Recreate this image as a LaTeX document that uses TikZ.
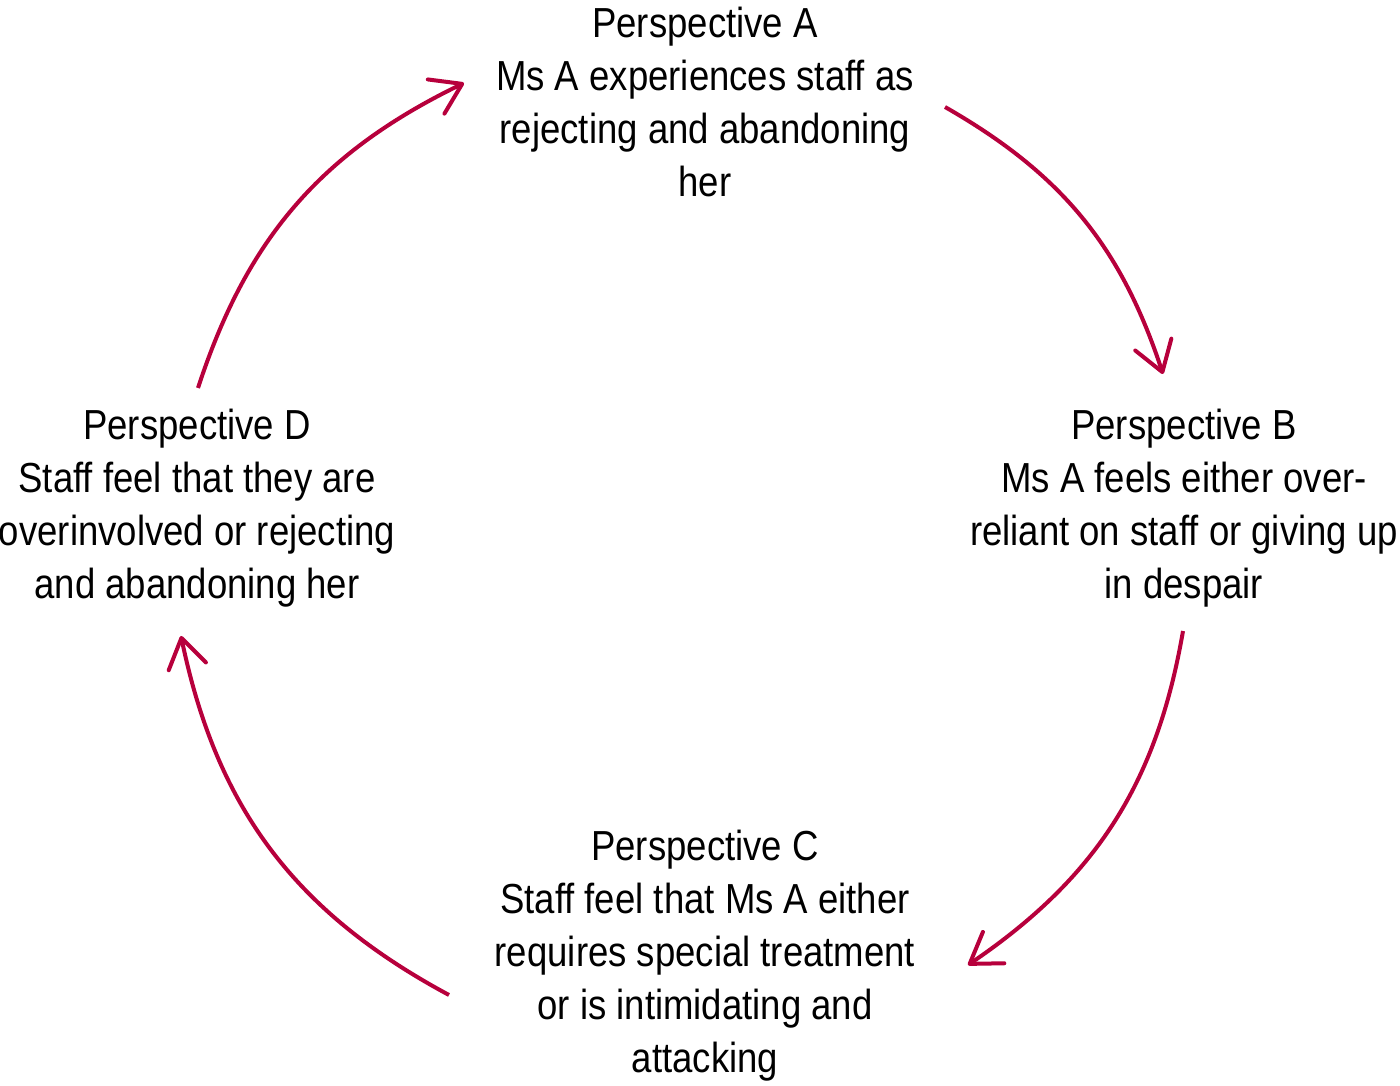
\documentclass[tikz,border=0pt]{standalone}
\usepackage{fontspec}
\setmainfont{Liberation Sans}[FakeStretch=0.87]
\usetikzlibrary{arrows.meta}
\definecolor{cycred}{RGB}{183,0,60}
\tikzset{
  persp/.style={align=center, inner sep=0pt, text=black, font=\fontsize{42}{53}\selectfont},
  cycarrow/.style={draw=cycred, line width=4pt, -{Straight Barb[length=29pt,width=38pt,round]}},
}
\begin{document}
\begin{tikzpicture}[x=1pt,y=1pt]
\useasboundingbox (0,0) rectangle (1400,1085);
\node[persp] (A) at (705,983.5) {Perspective A\\Ms A experiences staff as\\rejecting and abandoning\\her};
\node[persp] (B) at (1184,576.5) {Perspective B\\Ms A feels either over-\\reliant on staff or giving up\\in despair};
\node[persp] (C) at (705,129.5) {Perspective C\\Staff feel that Ms A either\\requires special treatment\\or is intimidating and\\attacking};
\node[persp] (D) at (197,576.5) {Perspective D\\Staff feel that they are\\overinvolved or rejecting\\and abandoning her};
\coordinate (dA) at (198,697);
\coordinate (aA) at (464,1002);
\coordinate (dB) at (945,978);
\coordinate (aB) at (1163,711);
\coordinate (dC) at (1183,454);
\coordinate (aC) at (968,120);
\coordinate (dD) at (449,90);
\coordinate (aD) at (181,449);
\draw[cycarrow] (dA) to[bend left=23] (aA);
\draw[cycarrow] (dB) to[bend left=21] (aB);
\draw[cycarrow] (dC) to[bend left=23] (aC);
\draw[cycarrow] (dD) to[bend left=25] (aD);
\end{tikzpicture}
\end{document}
